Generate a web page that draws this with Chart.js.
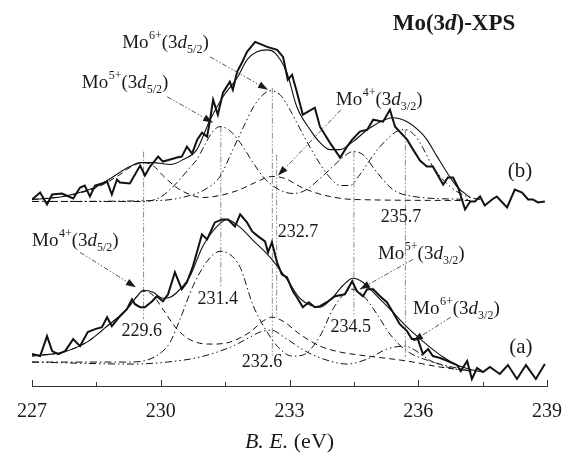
<!DOCTYPE html>
<html>
<head>
<meta charset="utf-8">
<script src="https://cdn.jsdelivr.net/npm/chart.js@4.4.0/dist/chart.umd.min.js"></script>
<style>
  html, body { margin: 0; padding: 0; background: #fff; }
  #wrap { width: 576px; height: 460px; }
</style>
</head>
<body>
<div id="wrap"><canvas id="xps"></canvas></div>
<script>
// x axis ticks (binding energy, eV)
var majorTicks = [227, 230, 233, 236, 239];
var minorTicks = [228.5, 231.5, 234.5, 237.5];

// spectrum (b): measured points, fit envelope and components (arb. units)
var bRawE = [227.00,227.19,227.35,227.47,227.70,227.96,228.12,228.23,228.35,228.47,228.63,228.75,228.86,228.98,229.05,229.28,229.52,229.63,229.75,229.94,230.05,230.22,230.38,230.49,230.61,230.73,230.85,230.96,231.08,231.15,231.22,231.33,231.45,231.61,231.68,231.78,231.89,232.01,232.20,232.48,232.71,232.85,232.96,233.06,233.17,233.31,233.59,233.71,233.94,234.18,234.34,234.46,234.64,234.81,234.95,235.18,235.34,235.46,235.74,235.88,236.04,236.20,236.34,236.58,236.69,236.81,236.93,237.09,237.21,237.32,237.44,237.55,237.72,237.83,238.07,238.25,238.42,238.56,238.67,238.79,238.95];
var bRawI = [187,194,182,192,193,188,199,201,190,201,203,205,192,207,204,203,221,211,220,230,225,227,229,230,240,233,247,254,250,267,287,272,294,305,297,315,324,335,345,340,337,330,307,312,295,272,279,260,244,229,240,247,255,257,267,265,277,260,247,237,226,220,220,202,209,209,199,177,185,185,190,181,187,190,179,197,194,187,187,184,185];

var bFitE = [227.00,227.72,228.51,229.28,229.52,229.82,230.22,230.52,230.84,231.15,231.45,231.78,232.01,232.24,232.48,232.66,232.94,233.17,233.48,233.71,233.94,234.18,234.48,234.88,235.41,235.74,236.04,236.20,236.44,236.67,236.90,237.21];
var bFitI = [187,190,200,220,224,224,222,227,237,267,290,309,327,335,337,334,314,280,257,244,237,237,245,259,269,265,255,247,230,214,200,189];

var bMo4E = [227.00,227.72,228.51,229.05,229.28,229.59,229.82,230.05,230.28,230.52,230.98,231.38,231.85,232.20,232.59,232.90,233.24,233.59,233.94,234.48,237.21];
var bMo4I = [187,190,199,212,219,224,221,211,202,195,189,191,197,204,210,208,200,194,190,187,186];

var bMo5E = [227.00,229.52,229.98,230.38,230.68,230.84,231.03,231.19,231.38,231.61,231.85,232.15,232.38,232.71,233.08,233.36,233.71,234.01,234.29,234.48,234.71,235.04,235.41,235.88,237.21];
var bMo5I = [185,185,189,204,219,227,242,254,260,256,244,224,210,198,193,196,208,220,231,235,232,214,197,190,187];

var bMo6E = [227.00,229.98,230.68,231.03,231.38,231.68,231.92,232.15,232.38,232.57,232.78,233.01,233.17,233.55,233.94,234.18,234.41,234.64,234.88,235.11,235.34,235.53,235.69,235.88,236.04,236.34,236.74,237.13,237.44];
var bMo6I = [185,186,191,197,210,237,259,279,292,296,292,277,264,234,209,201,201,212,227,240,250,256,257,253,244,220,200,190,187];

// spectrum (a)
var aRawE = [227.00,227.19,227.35,227.47,227.61,227.77,227.96,228.12,228.30,228.47,228.63,228.75,228.86,229.05,229.21,229.33,229.40,229.52,229.63,229.80,229.91,230.05,230.17,230.33,230.49,230.61,230.75,230.96,231.08,231.26,231.43,231.57,231.73,231.85,232.01,232.13,232.27,232.43,232.50,232.59,232.71,232.82,232.94,233.08,233.20,233.31,233.45,233.59,233.71,233.87,234.06,234.29,234.46,234.57,234.71,234.81,234.95,235.11,235.27,235.41,235.57,235.74,235.85,235.99,236.11,236.23,236.34,236.51,236.69,236.90,236.99,237.14,237.25,237.37,237.51,237.67,237.90,238.09,238.30,238.51,238.74,238.95];
var aRawI = [32,30,50,35,32,35,47,40,54,57,59,69,60,70,77,87,82,79,79,85,90,85,92,114,97,104,120,152,147,164,167,167,160,172,164,155,150,145,134,144,124,112,109,95,87,79,84,79,80,84,90,92,105,95,90,97,97,90,84,74,62,55,47,47,32,37,30,28,25,21,15,25,7,18,14,19,12,21,7,21,7,22];

var aFitE = [227.00,227.72,228.28,228.75,229.21,229.45,229.59,229.82,230.05,230.22,230.45,230.68,230.98,231.31,231.54,231.85,232.15,232.55,232.94,233.24,233.48,233.71,234.01,234.25,234.48,234.71,235.04,235.41,235.74,235.97,236.27,236.58,236.90,237.27,237.51];
var aFitI = [30,34,44,60,77,90,96,94,88,89,97,110,140,160,167,159,146,129,107,88,81,79,89,101,108,104,90,74,59,50,39,29,21,16,14];

var aMo4E = [227.00,227.72,228.28,228.75,229.21,229.45,229.59,229.82,230.05,230.38,230.75,231.22,231.61,232.08,232.38,232.59,232.85,233.24,233.71,234.18,234.64,235.74,236.51,237.21];
var aMo4I = [30,34,44,60,77,90,95,91,77,57,45,42,44,54,65,69,65,52,40,34,31,25,19,15];

var aMo5E = [227.00,229.28,229.75,230.05,230.22,230.45,230.75,231.08,231.38,231.61,231.85,232.15,232.48,232.78,233.06,233.31,233.71,234.01,234.34,234.48,234.71,235.04,235.34,235.74,236.27,237.21];
var aMo5I = [24,24,27,35,44,67,100,125,135,132,119,81,54,37,30,31,50,77,95,97,91,72,52,35,25,15];

var aMo6E = [227.00,229.35,230.15,230.91,231.68,232.08,232.31,232.57,232.94,233.41,233.94,234.34,234.81,235.27,235.69,235.88,236.30,236.86,237.32];
var aMo6I = [24,22,24,29,40,49,54,56,47,34,25,22,27,37,40,37,25,17,15];

// peak positions marked by vertical lines
var peakE = [229.6, 231.4, 232.6, 232.7, 234.5, 235.7];
var peakTop = [235, 260, 299, 232, 235, 257];
var peakBottom = [67, 99, 30, 69, 69, 29];
var peakText = ['229.6', '231.4', '232.6', '232.7', '234.5', '235.7'];

// species labels
var speciesOx = ['6+', '5+', '4+', '4+', '5+', '6+'];
var speciesSub = ['5/2', '5/2', '3/2', '5/2', '3/2', '3/2'];

// ---- layout of the annotations (data coordinates) ----
var peakTextPos = [[229.56, 55], [231.33, 87], [232.36, 24], [233.20, 154], [234.43, 59], [235.60, 169]];
// [label left E, label baseline I, arrow start E, I, arrow tip E, I]
var speciesPos = [
    [229.10, 339, 231.15, 330, 232.50, 297],
    [228.16, 299, 230.15, 290, 231.22, 264],
    [234.08, 282, 234.20, 277, 232.73, 211],
    [227.00, 140, 228.12, 134, 229.42, 99],
    [235.06, 127, 235.88, 127, 234.64, 97],
    [235.88, 72, 236.76, 69, 235.88, 45]
];

var SERIF = '"Liberation Serif", "Times New Roman", serif';
var INK = '#111';

function pts(xs, ys) {
    return xs.map(function (x, i) { return { x: x, y: ys[i] }; });
}

function curve(xs, ys, width, dash, smooth) {
    return {
        data: pts(xs, ys),
        borderColor: INK,
        borderWidth: width,
        borderDash: dash,
        pointRadius: 0,
        fill: false,
        tension: smooth ? 0.4 : 0,
        cubicInterpolationMode: smooth ? 'monotone' : 'default'
    };
}

var DASH = [6, 4];
var DASHDOT = [7, 3, 1.5, 3];
var DASHDOTDOT = [7, 3, 1.5, 3, 1.5, 3];

var datasets = [
    curve(bMo4E, bMo4I, 1, DASH, true),
    curve(bMo5E, bMo5I, 1, DASHDOT, true),
    curve(bMo6E, bMo6I, 1, DASHDOTDOT, true),
    curve(bFitE, bFitI, 1.1, [], true),
    curve(bRawE, bRawI, 2, [], false),
    curve(aMo4E, aMo4I, 1, DASH, true),
    curve(aMo5E, aMo5I, 1, DASHDOT, true),
    curve(aMo6E, aMo6I, 1, DASHDOTDOT, true),
    curve(aFitE, aFitI, 1.1, [], true),
    curve(aRawE, aRawI, 2, [], false)
];

// vertical peak markers
for (var i = 0; i < peakE.length; i++) {
    datasets.push({
        data: [{ x: peakE[i], y: peakTop[i] }, { x: peakE[i], y: peakBottom[i] }],
        borderColor: '#8c8c8c',
        borderWidth: 1,
        borderDash: [6, 2, 1.5, 2, 1.5, 2],
        pointRadius: 0,
        fill: false
    });
}

function arrow(ctx, x1, y1, x2, y2) {
    ctx.setLineDash([5, 2, 1.5, 2, 1.5, 2]);
    ctx.beginPath();
    ctx.moveTo(x1, y1);
    ctx.lineTo(x2, y2);
    ctx.stroke();
    ctx.setLineDash([]);
    var a = Math.atan2(y2 - y1, x2 - x1);
    var L = 10, W = 3.5;
    ctx.beginPath();
    ctx.moveTo(x2, y2);
    ctx.lineTo(x2 - L * Math.cos(a) + W * Math.sin(a), y2 - L * Math.sin(a) - W * Math.cos(a));
    ctx.lineTo(x2 - L * Math.cos(a) - W * Math.sin(a), y2 - L * Math.sin(a) + W * Math.cos(a));
    ctx.closePath();
    ctx.fill();
}

function piece(ctx, text, font, x, y) {
    ctx.font = font;
    ctx.fillText(text, x, y);
    return x + ctx.measureText(text).width;
}

function speciesLabel(ctx, x, y, ox, sub) {
    x = piece(ctx, 'Mo', '19px ' + SERIF, x, y);
    x = piece(ctx, ox, '12px ' + SERIF, x + 0.5, y - 9);
    x = piece(ctx, '(3', '19px ' + SERIF, x, y);
    x = piece(ctx, 'd', 'italic 19px ' + SERIF, x, y);
    x = piece(ctx, sub, '12px ' + SERIF, x, y + 5);
    piece(ctx, ')', '19px ' + SERIF, x, y);
}

var decorPlugin = {
    id: 'decor',
    afterDatasetsDraw: function (chart) {
        var ctx = chart.ctx;
        var xs = chart.scales.x, ys = chart.scales.y;
        var area = chart.chartArea;
        ctx.save();

        // inward tick marks
        ctx.strokeStyle = '#333';
        ctx.lineWidth = 1;
        majorTicks.concat(minorTicks).forEach(function (v) {
            var px = Math.round(xs.getPixelForValue(v)) + 0.5;
            var len = majorTicks.indexOf(v) >= 0 ? 6 : 4;
            ctx.beginPath();
            ctx.moveTo(px, area.bottom);
            ctx.lineTo(px, area.bottom - len);
            ctx.stroke();
        });

        ctx.fillStyle = '#1a1a1a';
        ctx.strokeStyle = '#444';
        ctx.lineWidth = 0.9;
        ctx.textBaseline = 'alphabetic';
        ctx.textAlign = 'left';

        // species labels with arrows
        speciesPos.forEach(function (p, k) {
            speciesLabel(ctx, xs.getPixelForValue(p[0]), ys.getPixelForValue(p[1]), speciesOx[k], speciesSub[k]);
            arrow(ctx, xs.getPixelForValue(p[2]), ys.getPixelForValue(p[3]),
                xs.getPixelForValue(p[4]), ys.getPixelForValue(p[5]));
        });

        // peak energies
        ctx.font = '18px ' + SERIF;
        ctx.textAlign = 'center';
        ctx.textBaseline = 'middle';
        peakText.forEach(function (t, k) {
            ctx.fillText(t, xs.getPixelForValue(peakTextPos[k][0]), ys.getPixelForValue(peakTextPos[k][1]));
        });

        // spectrum tags
        ctx.font = '21px ' + SERIF;
        ctx.fillText('(b)', xs.getPixelForValue(238.37), ys.getPixelForValue(215));
        ctx.fillText('(a)', xs.getPixelForValue(238.39), ys.getPixelForValue(39));

        // title
        ctx.textAlign = 'left';
        ctx.textBaseline = 'alphabetic';
        var tf = 'bold 23px ' + SERIF, tfi = 'italic bold 23px ' + SERIF;
        ctx.font = tf;
        var w1 = ctx.measureText('Mo(3').width, w3 = ctx.measureText(')-XPS').width;
        ctx.font = tfi;
        var w2 = ctx.measureText('d').width;
        var tx = 454 - (w1 + w2 + w3) / 2, ty = 30;
        tx = piece(ctx, 'Mo(3', tf, tx, ty);
        tx = piece(ctx, 'd', tfi, tx, ty);
        piece(ctx, ')-XPS', tf, tx, ty);

        // axis title
        var af = '22px ' + SERIF, afi = 'italic 22px ' + SERIF;
        ctx.font = afi;
        var a1 = ctx.measureText('B. E.').width;
        ctx.font = af;
        var a2 = ctx.measureText(' (eV)').width;
        var ax = (area.left + area.right) / 2 - (a1 + a2) / 2;
        ax = piece(ctx, 'B. E.', afi, ax, 448);
        piece(ctx, ' (eV)', af, ax, 448);

        ctx.restore();
    }
};

new Chart(document.getElementById('xps'), {
    type: 'line',
    data: { datasets: datasets },
    options: {
        responsive: true,
        maintainAspectRatio: false,
        animation: false,
        devicePixelRatio: 1,
        layout: { padding: { left: 32, right: 29, top: 0, bottom: 30 } },
        plugins: {
            legend: { display: false },
            tooltip: { enabled: false }
        },
        scales: {
            x: {
                type: 'linear',
                min: 227,
                max: 239,
                grid: { display: false },
                border: { display: true, color: '#333', width: 1 },
                afterBuildTicks: function (scale) {
                    scale.ticks = majorTicks.map(function (v) { return { value: v }; });
                },
                ticks: {
                    autoSkip: false,
                    maxRotation: 0,
                    padding: 6,
                    color: '#1a1a1a',
                    font: { family: SERIF, size: 20 }
                }
            },
            y: {
                display: false,
                min: 0,
                max: 387
            }
        }
    },
    plugins: [decorPlugin]
});
</script>
</body>
</html>
